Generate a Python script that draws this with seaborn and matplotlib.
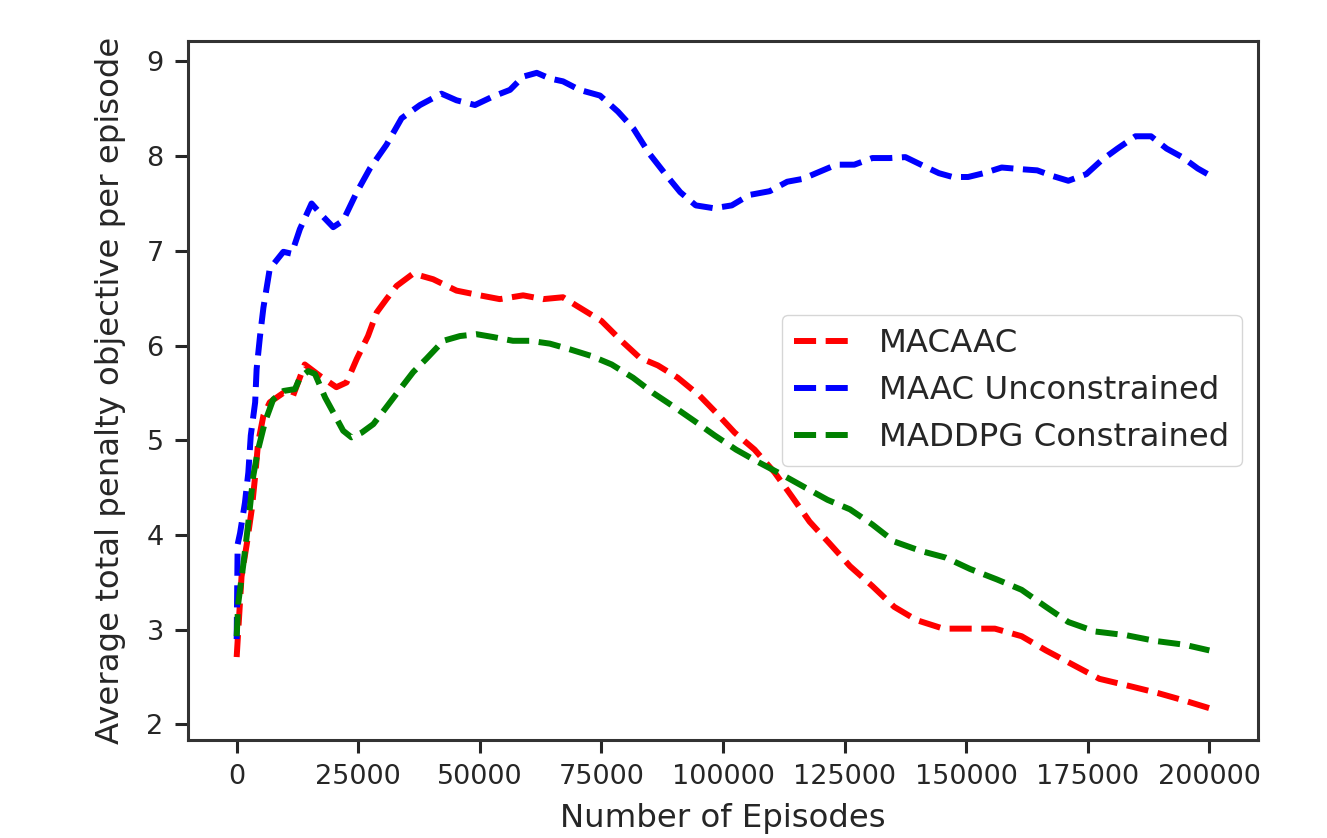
import seaborn as sns
import matplotlib.pyplot as plt
import pandas as pd

# episodes / average total penalty objective per episode
episodes_macaac = [0, 1000, 2100, 3100, 3800, 4400, 5500, 6800, 9600, 11600,
                   14000, 17100, 20500, 22600, 24700, 27000, 28800, 30800, 32900, 36300,
                   40400, 45200, 50000, 54100, 58900, 63000, 67100, 69900, 75000, 79100,
                   82900, 86600, 90700, 95200, 98600, 102400, 106500, 110600, 114100, 117800,
                   121900, 126100, 130700, 135200, 139800, 145300, 150400, 155900, 161400, 166400,
                   171900, 177400, 183900, 189400, 194900, 200000]
penalty_macaac = [2.71, 3.56, 3.91, 4.27, 4.62, 4.97, 5.26, 5.40, 5.50, 5.47,
                  5.80, 5.68, 5.56, 5.61, 5.86, 6.10, 6.35, 6.49, 6.63, 6.76,
                  6.70, 6.58, 6.53, 6.49, 6.53, 6.49, 6.51, 6.42, 6.26, 6.05,
                  5.87, 5.79, 5.66, 5.47, 5.29, 5.08, 4.90, 4.66, 4.41, 4.14,
                  3.91, 3.67, 3.46, 3.24, 3.10, 3.01, 3.01, 3.01, 2.93, 2.78,
                  2.63, 2.48, 2.40, 2.33, 2.25, 2.17]

episodes_maac = [0, 200, 700, 1700, 2400, 2900, 3800, 4100, 4800, 5500,
                 6800, 9600, 11300, 13000, 15400, 17800, 19850, 21900, 24700, 27400,
                 30800, 33900, 37700, 42100, 45200, 49000, 52700, 56200, 58900, 61700,
                 64400, 67100, 70500, 74700, 78400, 81600, 84800, 88000, 91200, 94400,
                 98100, 101800, 105400, 109600, 113200, 116400, 119600, 123300, 127000, 130700,
                 134300, 137500, 140700, 144400, 147200, 150400, 153600, 157300, 161900, 164600,
                 167800, 171000, 174700, 177900, 181100, 184800, 188000, 191200, 194400, 197600,
                 200000]
penalty_maac = [2.90, 3.90, 4.02, 4.34, 4.66, 5.05, 5.40, 5.75, 6.10, 6.40,
                6.81, 6.99, 6.97, 7.23, 7.50, 7.36, 7.25, 7.32, 7.62, 7.87,
                8.12, 8.40, 8.54, 8.66, 8.59, 8.54, 8.63, 8.70, 8.84, 8.88,
                8.82, 8.79, 8.70, 8.64, 8.47, 8.29, 8.03, 7.82, 7.62, 7.48,
                7.45, 7.48, 7.59, 7.63, 7.73, 7.76, 7.83, 7.91, 7.91, 7.98,
                7.98, 7.99, 7.91, 7.82, 7.78, 7.78, 7.82, 7.88, 7.86, 7.85,
                7.79, 7.74, 7.81, 7.96, 8.08, 8.21, 8.21, 8.08, 7.99, 7.87,
                7.80]

episodes_maddpg = [0, 330, 1400, 2400, 3400, 4400, 5800, 7500, 9600, 12000,
                   13000, 14700, 16100, 18200, 19900, 21900, 23600, 25700, 28100, 30500,
                   33600, 36300, 39000, 42500, 45900, 49300, 52700, 56800, 60300, 64400,
                   68500, 72900, 77100, 81500, 85600, 89700, 94200, 98300, 102700, 107200,
                   112000, 116900, 121500, 126100, 130700, 135200, 140700, 145800, 150800, 156300,
                   161400, 166400, 171000, 176500, 183000, 188900, 194900, 200000]
penalty_maddpg = [2.93, 3.28, 3.70, 4.13, 4.62, 4.90, 5.19, 5.43, 5.52, 5.54,
                  5.66, 5.73, 5.70, 5.45, 5.29, 5.10, 5.03, 5.08, 5.17, 5.33,
                  5.54, 5.72, 5.86, 6.05, 6.10, 6.12, 6.09, 6.05, 6.05, 6.02,
                  5.96, 5.89, 5.80, 5.66, 5.50, 5.36, 5.20, 5.05, 4.90, 4.77,
                  4.64, 4.50, 4.37, 4.27, 4.11, 3.93, 3.83, 3.76, 3.64, 3.53,
                  3.42, 3.24, 3.08, 2.98, 2.94, 2.88, 2.84, 2.78]

series = [("MACAAC", episodes_macaac, penalty_macaac, "#ff0000"),
          ("MAAC Unconstrained", episodes_maac, penalty_maac, "#0000ff"),
          ("MADDPG Constrained", episodes_maddpg, penalty_maddpg, "#008000")]

sns.set_style("ticks")
plt.rcParams.update({
    "axes.linewidth": 2.2,
    "axes.edgecolor": "#333333",
    "xtick.major.size": 9.5, "ytick.major.size": 9.5,
    "xtick.major.width": 2.2, "ytick.major.width": 2.2,
    "xtick.major.pad": 8, "ytick.major.pad": 8,
    "xtick.labelsize": 19.5, "ytick.labelsize": 19.5,
    "axes.labelsize": 23.3,
    "legend.fontsize": 23.3,
})

fig, ax = plt.subplots(figsize=(13.27, 8.38), dpi=100)
fig.subplots_adjust(left=0.1417, right=0.948, top=0.951, bottom=0.117)

for name, xs, ys, color in series:
    df = pd.DataFrame({"episodes": xs, "penalty": ys})
    sns.lineplot(data=df, x="episodes", y="penalty", ax=ax, color=color,
                 linestyle="--", linewidth=4.3, label=name)

ax.set_xticks(range(0, 200001, 25000))
ax.set_yticks(range(2, 10))
ax.set_xlabel("Number of Episodes", labelpad=9)
ax.set_ylabel("Average total penalty objective per episode", labelpad=15)
ax.legend(loc="center right", frameon=True, handlelength=1.8)

plt.savefig("out.png", dpi=100)
